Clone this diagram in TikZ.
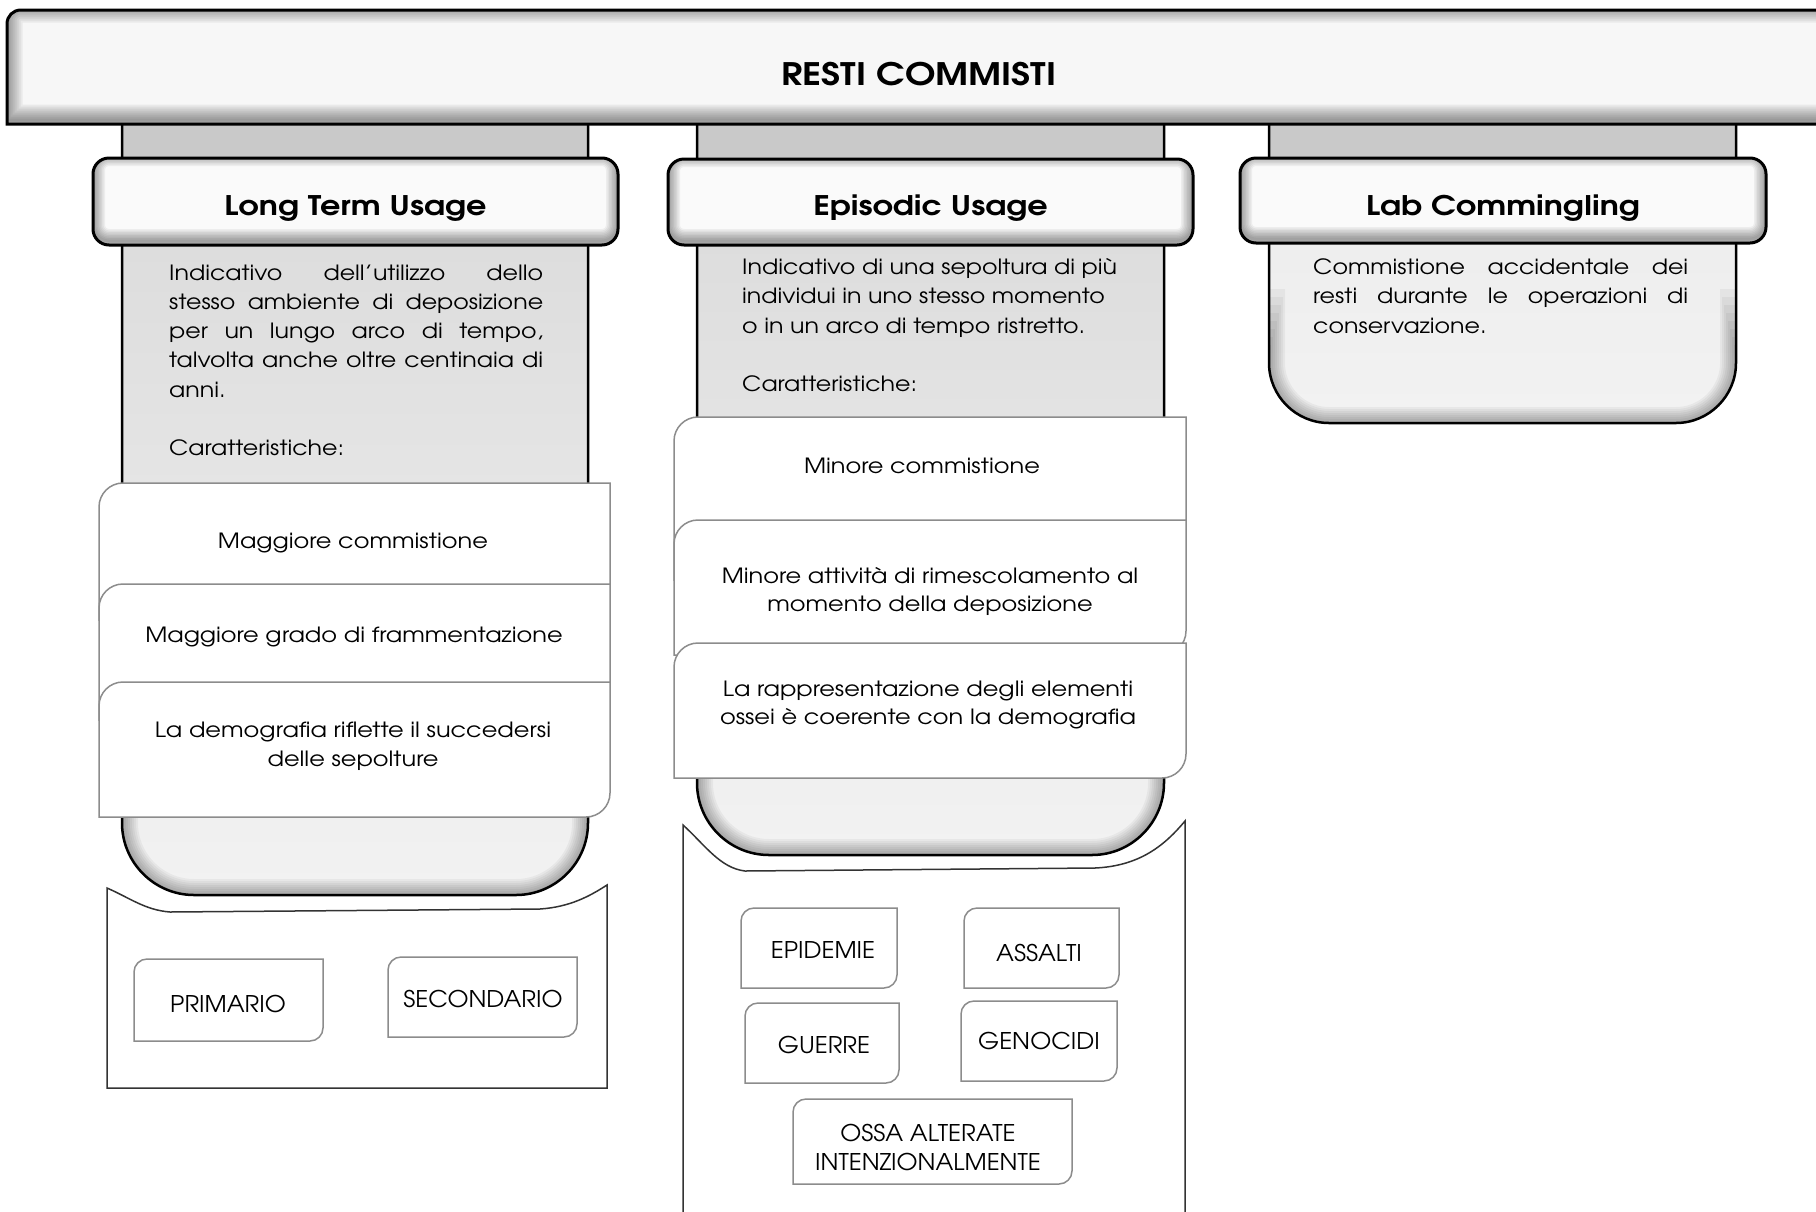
\documentclass[tikz,border=0pt]{standalone}
\usepackage{fontspec}
\setmainfont{TeX Gyre Adventor}
\newfontfamily\gothic[FakeStretch=1.13]{TeX Gyre Adventor}
\newfontfamily\gothicC[FakeStretch=1.145]{TeX Gyre Adventor}
\newfontfamily\gothicT[FakeStretch=1.05]{TeX Gyre Adventor}
\newfontfamily\gothicB[FakeStretch=1.18]{TeX Gyre Adventor}
\newcommand{\dbox}[6]{\path[#1] (#2,#5) -- (#2,{#3+#6}) .. controls (#2,{#3+0.45*#6}) and ({#2+0.45*#6},#3) .. ({#2+#6},#3) -- (#4,#3) -- (#4,{#5-#6}) .. controls (#4,{#5-0.45*#6}) and ({#4-0.45*#6},#5) .. ({#4-#6},#5) -- cycle;}
\newcommand{\pilpath}[4]{(#1,116) -- (#1,{#3-#4}) .. controls (#1,{#3-0.45*#4}) and ({#1+0.45*#4},#3) .. ({#1+#4},#3) -- ({#2-#4},#3) .. controls ({#2-0.45*#4},#3) and (#2,{#3-0.45*#4}) .. (#2,{#3-#4}) -- (#2,116) -- cycle}
\newcommand{\pilbot}[5]{(#1,{#3-#4-#5}) -- (#1,{#3-#4}) .. controls (#1,{#3-0.45*#4}) and ({#1+0.45*#4},#3) .. ({#1+#4},#3) -- ({#2-#4},#3) .. controls ({#2-0.45*#4},#3) and (#2,{#3-0.45*#4}) .. (#2,{#3-#4}) -- (#2,{#3-#4-#5})}
\newcommand{\pillar}[6]{%
  \shade[top color=#5, bottom color=#6] \pilpath{#1}{#2}{#3}{#4};
  \fill[black!21] (#1,116) rectangle (#2,165);
  \begin{scope}
    \clip \pilpath{#1}{#2}{#3}{#4};
    \foreach \w [count=\i] in {4,8,...,32} {\draw[line width=\w pt, black, opacity=0.045] \pilbot{#1}{#2}{#3}{#4}{8*\i-10};}
  \end{scope}
  \draw[pil] \pilpath{#1}{#2}{#3}{#4};}
\newcommand{\header}[4]{%
  \fill[black!2, rounded corners=16pt] (#1,#2) rectangle (#3,#4);
  \begin{scope}
    \clip[rounded corners=16pt] (#1,#2) rectangle (#3,#4);
    \foreach \w in {3,6,...,24} {\draw[line width=\w pt, black, opacity=0.05, rounded corners=16pt] (#1,{#2-4}) rectangle (#3,{#4-4});}
  \end{scope}
  \draw[hdr, rounded corners=16pt] (#1,#2) rectangle (#3,#4);}
\tikzset{
  txt/.style={inner sep=0pt, font=\gothic\fontsize{21}{29}\selectfont, text=black},
  cardtxt/.style={inner sep=0pt, font=\gothicC\fontsize{21}{28}\selectfont, text=black},
  tagtxt/.style={inner sep=0pt, font=\gothicT\fontsize{23}{29}\selectfont, text=black},
  ttl/.style={inner sep=0pt, font=\gothicB\fontsize{27}{32}\bfseries\selectfont},
  card/.style={fill=white, draw=black!45, line width=1.5pt},
  tag/.style={fill=white, draw=black!45, line width=1.5pt},
  panel/.style={fill=white, draw=black!80, line width=1.5pt},
  hdr/.style={draw=black, line width=3pt},
  pil/.style={draw=black, line width=2.5pt},
}
\begin{document}
\begin{tikzpicture}[x=1pt,y=-1pt]
\useasboundingbox (0,0) rectangle (1816,1211);
\clip (0,0) rectangle (1816,1211);

% bottom panels
\path[panel] (107,888) .. controls (130,898) and (145,910) .. (170,912) -- (540,909) .. controls (570,907) and (590,896) .. (607,885) -- (607,1088) -- (107,1088) -- cycle;
\path[panel] (683,825) .. controls (705,845) and (720,868) .. (745,871) -- (1095,868) .. controls (1140,866) and (1165,845) .. (1185,821) -- (1185,1240) -- (683,1240) -- cycle;

% pillars
\pillar{122}{588}{895}{72}{black!15}{black!5}
\pillar{697}{1164}{855}{72}{black!15}{black!5}
\pillar{1269}{1736}{423}{60}{black!8}{black!5}

% banner
\fill[black!3] (1840,10) -- (21,10) .. controls (13,10) and (7,16) .. (7,24) -- (7,124) -- (1840,124) -- cycle;
\begin{scope}
  \clip (1840,10) -- (21,10) .. controls (13,10) and (7,16) .. (7,24) -- (7,124) -- (1840,124) -- cycle;
  \foreach \w in {3,7,...,31} {\draw[line width=\w pt, black, opacity=0.055] (1840,7) -- (21,7) .. controls (13,7) and (7,13) .. (7,21) -- (7,120) -- (1840,120) -- cycle;}
\end{scope}
\draw[hdr] (1840,10) -- (21,10) .. controls (13,10) and (7,16) .. (7,24) -- (7,124) -- (1840,124);
\node[inner sep=0pt, font=\gothicB\fontsize{31}{36}\bfseries\selectfont, anchor=base] (main) at (919,85) {RESTI COMMISTI};

% headers
\header{93}{158}{618}{245}
\header{668}{159}{1193}{245}
\header{1240}{158}{1766}{243}
\node[ttl, anchor=base] (h1) at (355.5,215) {Long Term Usage};
\node[ttl, anchor=base] (h2) at (930.5,215) {Episodic Usage};
\node[ttl, anchor=base] (h3) at (1503,215) {Lab Commingling};

% body texts
\node[txt, anchor=base west] (t1a) at (169,280) {\makebox[374pt][s]{Indicativo dell’utilizzo dello}};
\node[txt, anchor=base west] (t1b) at (169,309.3) {\makebox[374pt][s]{stesso ambiente di deposizione}};
\node[txt, anchor=base west] (t1c) at (169,338.6) {\makebox[374pt][s]{per un lungo arco di tempo,}};
\node[txt, anchor=base west] (t1d) at (169,367.9) {\makebox[374pt][s]{talvolta anche oltre centinaia di}};
\node[txt, anchor=base west] (t1e) at (169,397.2) {anni.};
\node[txt, anchor=base west] (t1f) at (169,455) {Caratteristiche:};

\node[txt, anchor=base west] (t2a) at (742,274) {Indicativo di una sepoltura di più};
\node[txt, anchor=base west] (t2b) at (742,303.5) {individui in uno stesso momento};
\node[txt, anchor=base west] (t2c) at (742,333) {o in un arco di tempo ristretto.};
\node[txt, anchor=base west] (t2d) at (742,391) {Caratteristiche:};

\node[txt, anchor=base west] (t3a) at (1313,274) {\makebox[375pt][s]{Commistione accidentale dei}};
\node[txt, anchor=base west] (t3b) at (1313,303.5) {\makebox[375pt][s]{resti durante le operazioni di}};
\node[txt, anchor=base west] (t3c) at (1313,333) {conservazione.};

% cards column 1
\dbox{card}{99}{483}{610}{620}{24}
\dbox{card}{99}{584}{610}{720}{24}
\dbox{card}{99}{682}{610}{817}{24}
\node[cardtxt, anchor=base] (c1a) at (353,548) {Maggiore commistione};
\node[cardtxt, anchor=base] (c1b) at (354,642) {Maggiore grado di frammentazione};
\node[cardtxt, anchor=base] (c1c) at (353,737) {La demografia riflette il succedersi};
\node[cardtxt, anchor=base] (c1d) at (353,766) {delle sepolture};

% cards column 2
\dbox{card}{674}{417}{1186}{580}{24}
\dbox{card}{674}{520}{1186}{655}{24}
\dbox{card}{674}{643}{1186}{778}{24}
\node[cardtxt, anchor=base] (c2a) at (922,473) {Minore commistione};
\node[cardtxt, anchor=base] (c2b) at (930,583) {Minore attività di rimescolamento al};
\node[cardtxt, anchor=base] (c2c) at (930,611) {momento della deposizione};
\node[cardtxt, anchor=base] (c2d) at (928,696) {La rappresentazione degli elementi};
\node[cardtxt, anchor=base] (c2e) at (928,724) {ossei è coerente con la demografia};

% tags column 1
\dbox{tag}{134}{959}{323}{1041}{13}
\dbox{tag}{388}{957}{577}{1037}{13}
\node[tagtxt, anchor=base] (prim) at (228,1012) {PRIMARIO};
\node[tagtxt, anchor=base] (sec) at (483,1007) {SECONDARIO};

% tags column 2
\dbox{tag}{741}{908}{897}{988}{13}
\dbox{tag}{964}{908}{1119}{988}{13}
\dbox{tag}{745}{1003}{899}{1083}{13}
\dbox{tag}{961}{1001}{1117}{1081}{13}
\dbox{tag}{793}{1099}{1072}{1184}{13}
\node[tagtxt, anchor=base] (epi) at (823,958) {EPIDEMIE};
\node[tagtxt, anchor=base] (ass) at (1039,961) {ASSALTI};
\node[tagtxt, anchor=base] (gue) at (824,1053) {GUERRE};
\node[tagtxt, anchor=base] (gen) at (1039,1049) {GENOCIDI};
\node[tagtxt, anchor=base] (ossa) at (928,1141) {OSSA ALTERATE};
\node[tagtxt, anchor=base] (inte) at (928,1170) {INTENZIONALMENTE};
\end{tikzpicture}
\end{document}
